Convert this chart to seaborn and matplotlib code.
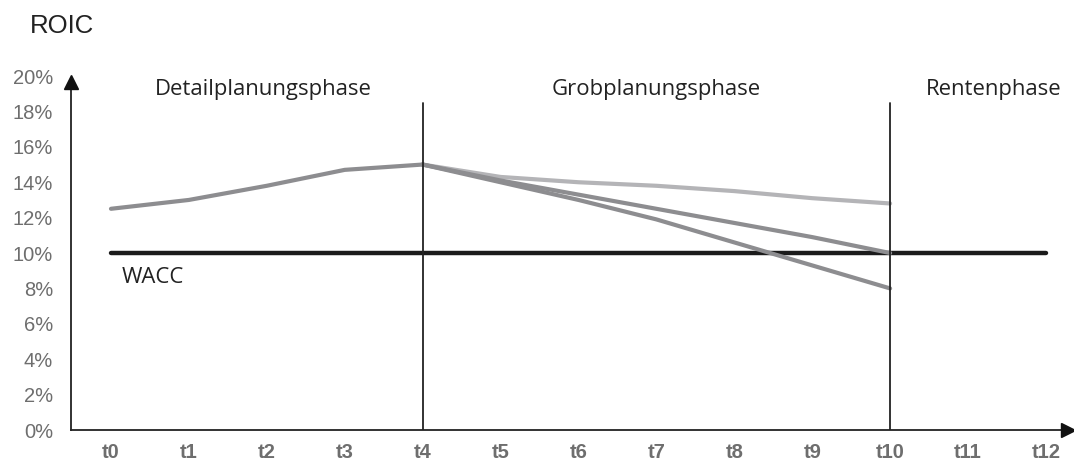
import matplotlib
matplotlib.use("Agg")
import matplotlib.pyplot as plt
import seaborn as sns
import pandas as pd

# Werte (ROIC in %)
periods = ["t0", "t1", "t2", "t3", "t4", "t5", "t6", "t7", "t8", "t9", "t10", "t11", "t12"]
base_roic = [12.5, 13.0, 13.8, 14.7, 15.0]            # t0 - t4
high_roic = [14.3, 14.0, 13.8, 13.5, 13.1, 12.8]      # t5 - t10
mid_roic = [14.1, 13.3, 12.5, 11.7, 10.9, 10.0]
low_roic = [14.0, 13.0, 11.9, 10.6, 9.3, 8.0]
wacc = 10.0
phases = ["Detailplanungsphase", "Grobplanungsphase", "Rentenphase"]
y_ticks = [0, 2, 4, 6, 8, 10, 12, 14, 16, 18, 20]

x_idx = list(range(len(periods)))

rows = []
for i, v in enumerate(base_roic):
    rows.append(("base", x_idx[i], v))
for name, vals in [("high", high_roic), ("mid", mid_roic), ("low", low_roic)]:
    rows.append((name, x_idx[4], base_roic[-1]))
    for i, v in enumerate(vals):
        rows.append((name, x_idx[5 + i], v))
df = pd.DataFrame(rows, columns=["scenario", "t", "roic"])

sns.set_style("white")
plt.rcParams["font.family"] = ["Liberation Sans", "DejaVu Sans"]

fig = plt.figure(figsize=(10.74, 4.62), dpi=100)
ax = fig.add_axes([71 / 1074, 32 / 462, 1 - 71 / 1074, (430 - 75) / 462])

# WACC
ax.plot([x_idx[0], x_idx[-1]], [wacc, wacc], color="#1b1b1b", lw=3.2, zorder=2)

line_kw = dict(lw=3.0, solid_capstyle="round", solid_joinstyle="round", legend=False)
sns.lineplot(data=df[df.scenario == "high"], x="t", y="roic", color="#b4b4b7", ax=ax, zorder=3, **line_kw)
sns.lineplot(data=df[df.scenario == "mid"], x="t", y="roic", color="#8d8d90", ax=ax, zorder=4, **line_kw)
sns.lineplot(data=df[df.scenario == "low"], x="t", y="roic", color="#8d8d90", ax=ax, zorder=4, **line_kw)
sns.lineplot(data=df[df.scenario == "base"], x="t", y="roic", color="#8d8d90", ax=ax, zorder=5, **line_kw)

# Phasengrenzen
for xv in (x_idx[4], x_idx[10]):
    ax.plot([xv, xv], [0, 18.5], color="#222222", lw=1.3, zorder=6)

ax.set_xlim(-0.513, 12.36)
ax.set_ylim(0, 20.06)
ax.set_xticks(x_idx)
ax.set_xticklabels(periods, fontweight="bold", color="#6e6e6e", fontsize=14.5)
ax.set_yticks(y_ticks)
ax.set_yticklabels([f"{v}%" for v in y_ticks], color="#6e6e6e", fontsize=14.5)
ax.tick_params(axis="x", length=0, pad=9)
ax.tick_params(axis="y", length=0, pad=13)
ax.set_xlabel("")
ax.set_ylabel("")

for s in ("top", "right"):
    ax.spines[s].set_visible(False)
for s in ("left", "bottom"):
    ax.spines[s].set_color("#222222")
    ax.spines[s].set_linewidth(1.3)
ax.spines["left"].set_bounds(0, 19.5)
ax.spines["bottom"].set_bounds(-0.513, 12.2)

# Pfeilspitzen
ax.plot(-0.513, 19.66, marker="^", color="#111111", markersize=10, clip_on=False, zorder=7)
ax.plot(12.28, 0, marker=">", color="#111111", markersize=10, clip_on=False, zorder=7)

label_font = ["Open Sans", "DejaVu Sans"]
ax.text(1.96, 19.25, phases[0], ha="center", va="center", fontsize=15.9, color="#222222", family=label_font)
ax.text(7.0, 19.25, phases[1], ha="center", va="center", fontsize=15.9, color="#222222", family=label_font)
ax.text(11.33, 19.25, phases[2], ha="center", va="center", fontsize=15.9, color="#222222", family=label_font)
ax.text(0.14, 8.6, "WACC", ha="left", va="center", fontsize=15.9, color="#222222", family=label_font)

fig.text(30 / 1074, 1 - 26 / 462, "ROIC", ha="left", va="center", fontsize=18.5, color="#222222")

fig.savefig("out.png", dpi=100)
